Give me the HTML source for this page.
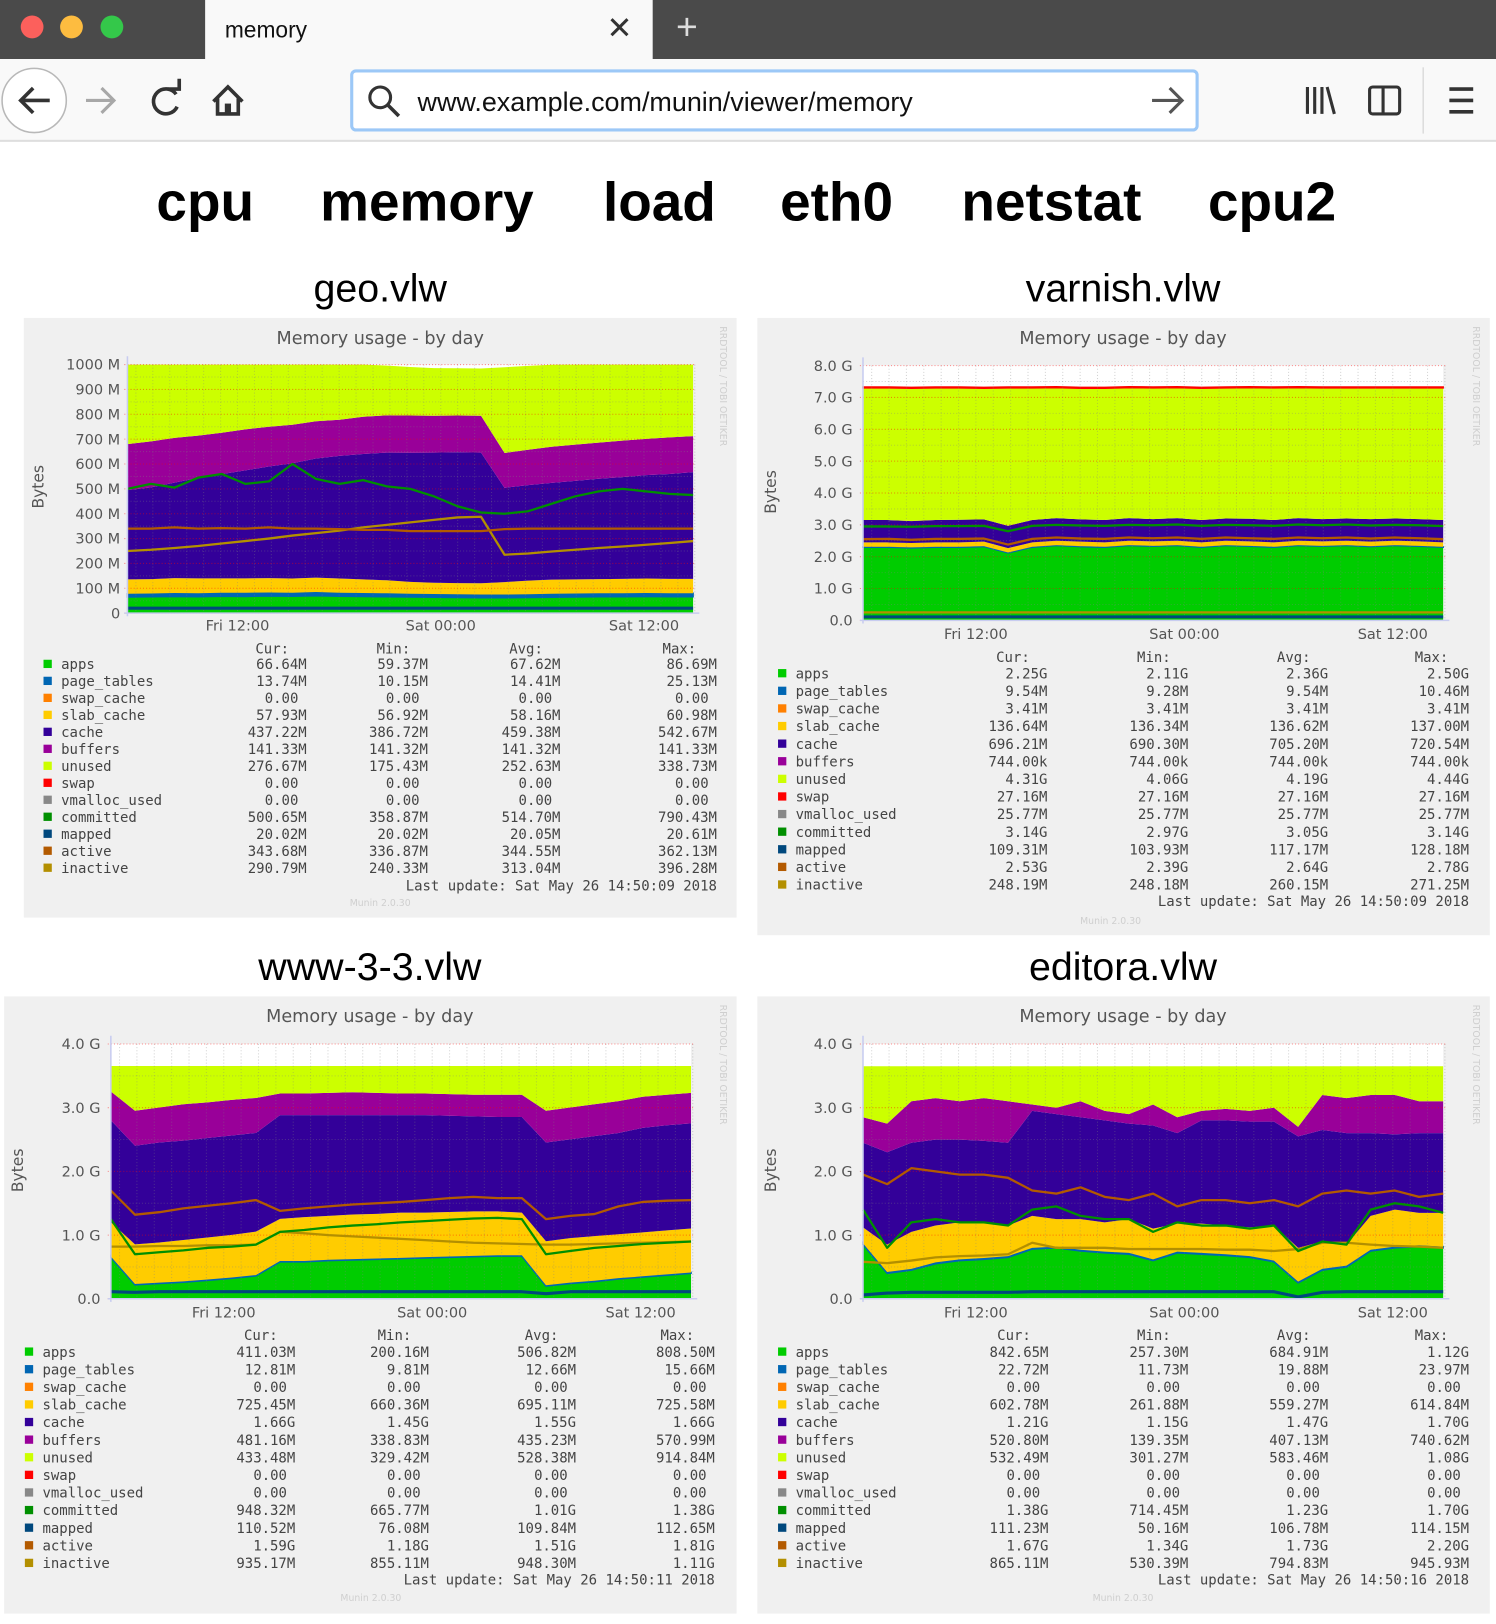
<!DOCTYPE html>
<html><head><meta charset="utf-8">
<style>
html,body{margin:0;padding:0;background:#fff;overflow:hidden;}
#wrap{width:1444px;height:1568px;transform:scale(1.03601,1.03571);transform-origin:0 0;position:relative;}
svg text{font-family:"DejaVu Sans","Liberation Sans",sans-serif;}
.mono{font-family:"DejaVu Sans Mono","Liberation Mono",monospace !important;}
.lib{font-family:"Liberation Sans",Arial,sans-serif !important;}
</style></head>
<body>
<div id="wrap">
<svg id="root" width="1444" height="1568" viewBox="0 0 1444 1568" xmlns="http://www.w3.org/2000/svg">
  <rect x="0" y="0" width="1444" height="57" fill="#4a4a4a"/>
  <circle cx="31" cy="26" r="11" fill="#fc605c"/>
  <circle cx="69" cy="26" r="11" fill="#fdbc40"/>
  <circle cx="108" cy="26" r="11" fill="#34c84a"/>
  <g>
    <rect x="198" y="0" width="432" height="58" fill="#f9f9f9"/>
    <text x="217" y="36" class="lib" font-size="22" fill="#111">memory</text>
  </g>
  <text x="598" y="37" class="lib" font-size="30" fill="#333" text-anchor="middle">✕</text>
  <text x="663" y="38" class="lib" font-size="36" fill="#ddd" text-anchor="middle">+</text>
  <rect x="0" y="57" width="1444" height="78" fill="#f9f9f9"/>
  <rect x="0" y="135" width="1444" height="2" fill="#dedede"/>
  <g>
    <circle cx="33" cy="97" r="31" fill="#fff" stroke="#b8b8b8" stroke-width="1.5"/>
    <path d="M48 97 H20 M32 85 L20 97 L32 109" stroke="#333" stroke-width="3.5" fill="none"/>
  </g>
  <path d="M110 97 H83 M98 85 L110 97 L98 109" stroke="#a8a8a8" stroke-width="3" fill="none"/>
  <g>
    <path d="M170 91 A12 12 0 1 0 171 103" stroke="#333" stroke-width="3.5" fill="none"/>
    <path d="M162 86 L173 86 L173 76" stroke="#333" stroke-width="3.5" fill="none"/>
  </g>
  <g>
    <path d="M206 98 L220 84 L234 98 M210 95 V110 H230 V95" stroke="#333" stroke-width="3.5" fill="none"/>
    <rect x="217" y="100" width="6" height="10" fill="#333"/>
  </g>
  <g>
    <rect x="339.5" y="68.5" width="816" height="57" rx="4" fill="#fff" stroke="#9cc8f7" stroke-width="3"/>
    <circle cx="367" cy="94" r="10" stroke="#333" stroke-width="3" fill="none"/>
    <path d="M374 101 L385 112" stroke="#333" stroke-width="3.5"/>
    <text x="403" y="107" class="lib" font-size="26" fill="#111">www.example.com/munin/viewer/memory</text>
    <path d="M1112 97 H1141 M1129 85 L1141 97 L1129 109" stroke="#555" stroke-width="3" fill="none"/>
  </g>
  <g stroke="#333" stroke-width="3">
    <path d="M1262 84 V110 M1269 84 V110 M1276 84 V110 M1281 84 L1288 110"/>
  </g>
  <g>
    <rect x="1322" y="84" width="29" height="26" rx="3" stroke="#333" stroke-width="3" fill="none"/>
    <path d="M1335 84 V110" stroke="#333" stroke-width="3"/>
  </g>
  <rect x="1373" y="65" width="1.5" height="64" fill="#ddd"/>
  <path d="M1399 86 H1422 M1399 97 H1422 M1399 108 H1422" stroke="#333" stroke-width="3.5"/>

  <g class="navlinks" font-weight="bold" font-size="53" fill="#000">
    <text x="151" y="213" class="lib">cpu</text>
    <text x="309" y="213" class="lib">memory</text>
    <text x="582" y="213" class="lib">load</text>
    <text x="753" y="213" class="lib">eth0</text>
    <text x="928" y="213" class="lib">netstat</text>
    <text x="1166" y="213" class="lib">cpu2</text>
  </g>
  <g font-size="38" fill="#000" text-anchor="middle">
    <text x="367" y="291" class="lib">geo.vlw</text>
    <text x="1084" y="291" class="lib">varnish.vlw</text>
    <text x="357" y="946" class="lib">www-3-3.vlw</text>
    <text x="1084" y="946" class="lib">editora.vlw</text>
  </g>
  <g id="charts"></g>
</svg>
</div>
<script>
const seriesNames = ['apps','page_tables','swap_cache','slab_cache','cache','buffers','unused','swap','vmalloc_used','committed','mapped','active','inactive'];
const seriesColors = ['#00cc00','#0066b3','#ff8000','#ffcc00','#330099','#990099','#ccff00','#ff0000','#888888','#008f00','#00487d','#b35a00','#b38f00'];
const xTickHours = [6.5, 18.5, 30.5];
const xTickLabels = ['Fri 12:00','Sat 00:00','Sat 12:00'];

// ---------- geo.vlw (MB) ----------
const geoApps = [65,66,67,66,68,67,69,68,70,68,67,66,65,64,63,62,62,63,64,65,66,66,67,66,66];
const geoPageTables = [13,13,14,14,14,15,14,14,15,14,14,14,13,13,13,13,13,13,14,14,14,14,14,14,14];
const geoSwapCache = [0,0,0,0,0,0,0,0,0,0,0,0,0,0,0,0,0,0,0,0,0,0,0,0,0];
const geoSlab = [58,58,60,60,58,58,58,57,58,57,55,52,48,45,45,45,50,55,57,57,57,58,58,58,58];
const geoCache = [359,369,384,404,419,434,449,464,479,494,504,514,519,524,526,526,379,384,389,396,404,409,416,422,429];
const geoBuffers = [185,185,180,170,167,165,160,155,150,145,150,150,150,148,148,148,140,142,145,146,145,147,146,147,145];
const geoUnused = [320,310,300,290,278,265,255,245,235,225,210,200,195,192,190,190,345,338,330,322,315,308,302,295,290];
const geoSwap = [0,0,0,0,0,0,0,0,0,0,0,0,0,0,0,0,0,0,0,0,0,0,0,0,0];
const geoCommitted = [500,520,505,545,560,520,530,600,540,520,535,510,500,470,430,405,400,410,440,470,490,500,490,480,475];
const geoMapped = [20,20,20,20,20,20,20,20,20,20,20,20,20,20,20,20,20,20,20,20,20,20,20,20,20];
const geoActive = [340,340,345,340,342,340,345,340,340,338,335,335,330,330,330,330,338,340,340,340,340,340,340,340,340];
const geoInactive = [250,255,262,270,280,290,300,312,322,332,345,355,365,375,385,388,235,240,248,255,262,268,275,282,290];
const geoYTicks = [0,100,200,300,400,500,600,700,800,900,1000];
const geoYLabels = ['0','100 M','200 M','300 M','400 M','500 M','600 M','700 M','800 M','900 M','1000 M'];
const geoCur = ['66.64M','13.74M','0.00','57.93M','437.22M','141.33M','276.67M','0.00','0.00','500.65M','20.02M','343.68M','290.79M'];
const geoMin = ['59.37M','10.15M','0.00','56.92M','386.72M','141.32M','175.43M','0.00','0.00','358.87M','20.02M','336.87M','240.33M'];
const geoAvg = ['67.62M','14.41M','0.00','58.16M','459.38M','141.32M','252.63M','0.00','0.00','514.70M','20.05M','344.55M','313.04M'];
const geoMax = ['86.69M','25.13M','0.00','60.98M','542.67M','141.33M','338.73M','0.00','0.00','790.43M','20.61M','362.13M','396.28M'];

// ---------- varnish.vlw (GB) ----------
const varApps = [2.30,2.30,2.28,2.30,2.30,2.32,2.12,2.30,2.35,2.32,2.30,2.35,2.33,2.35,2.30,2.35,2.33,2.30,2.35,2.33,2.35,2.32,2.35,2.33,2.30];
const varPageTables = [0.01,0.01,0.01,0.01,0.01,0.01,0.01,0.01,0.01,0.01,0.01,0.01,0.01,0.01,0.01,0.01,0.01,0.01,0.01,0.01,0.01,0.01,0.01,0.01,0.01];
const varSwapCache = [0.003,0.003,0.003,0.003,0.003,0.003,0.003,0.003,0.003,0.003,0.003,0.003,0.003,0.003,0.003,0.003,0.003,0.003,0.003,0.003,0.003,0.003,0.003,0.003,0.003];
const varSlab = [0.137,0.137,0.137,0.137,0.137,0.137,0.137,0.137,0.137,0.137,0.137,0.137,0.137,0.137,0.137,0.137,0.137,0.137,0.137,0.137,0.137,0.137,0.137,0.137,0.137];
const varCache = [0.70,0.70,0.69,0.70,0.71,0.70,0.70,0.70,0.71,0.70,0.70,0.71,0.70,0.71,0.70,0.70,0.71,0.70,0.71,0.70,0.70,0.71,0.70,0.70,0.70];
const varBuffers = [0.001,0.001,0.001,0.001,0.001,0.001,0.001,0.001,0.001,0.001,0.001,0.001,0.001,0.001,0.001,0.001,0.001,0.001,0.001,0.001,0.001,0.001,0.001,0.001,0.001];
const varUnused = [4.15,4.15,4.17,4.15,4.14,4.12,4.33,4.15,4.10,4.12,4.14,4.10,4.12,4.10,4.14,4.10,4.12,4.15,4.10,4.12,4.10,4.12,4.10,4.12,4.15];
const varSwap = [0.027,0.027,0.027,0.027,0.027,0.027,0.027,0.027,0.027,0.027,0.027,0.027,0.027,0.027,0.027,0.027,0.027,0.027,0.027,0.027,0.027,0.027,0.027,0.027,0.027];
const varCommitted = [2.95,2.95,2.94,2.96,2.96,2.97,2.80,2.97,3.00,2.98,2.97,3.00,2.99,3.01,2.97,3.00,2.99,2.97,3.01,2.99,3.01,2.98,3.00,2.99,2.96];
const varMapped = [0.11,0.11,0.11,0.11,0.11,0.11,0.11,0.11,0.11,0.11,0.11,0.11,0.11,0.11,0.11,0.11,0.11,0.11,0.11,0.11,0.11,0.11,0.11,0.11,0.11];
const varActive = [2.55,2.56,2.53,2.56,2.56,2.57,2.38,2.56,2.60,2.57,2.56,2.60,2.58,2.60,2.56,2.60,2.58,2.56,2.60,2.58,2.60,2.57,2.60,2.58,2.55];
const varInactive = [0.25,0.25,0.25,0.25,0.25,0.25,0.25,0.25,0.25,0.25,0.25,0.25,0.25,0.25,0.25,0.25,0.25,0.25,0.25,0.25,0.25,0.25,0.25,0.25,0.25];
const varYTicks = [0,1,2,3,4,5,6,7,8];
const varYLabels = ['0.0','1.0 G','2.0 G','3.0 G','4.0 G','5.0 G','6.0 G','7.0 G','8.0 G'];
const varCur = ['2.25G','9.54M','3.41M','136.64M','696.21M','744.00k','4.31G','27.16M','25.77M','3.14G','109.31M','2.53G','248.19M'];
const varMin = ['2.11G','9.28M','3.41M','136.34M','690.30M','744.00k','4.06G','27.16M','25.77M','2.97G','103.93M','2.39G','248.18M'];
const varAvg = ['2.36G','9.54M','3.41M','136.62M','705.20M','744.00k','4.19G','27.16M','25.77M','3.05G','117.17M','2.64G','260.15M'];
const varMax = ['2.50G','10.46M','3.41M','137.00M','720.54M','744.00k','4.44G','27.16M','25.77M','3.14G','128.18M','2.78G','271.25M'];

// ---------- www-3-3.vlw (GB) ----------
const wwwApps = [0.65,0.22,0.24,0.26,0.29,0.32,0.36,0.58,0.58,0.60,0.61,0.62,0.63,0.64,0.65,0.66,0.67,0.67,0.20,0.24,0.27,0.31,0.34,0.37,0.40];
const wwwPageTables = [0.013,0.013,0.013,0.013,0.013,0.013,0.013,0.013,0.013,0.013,0.013,0.013,0.013,0.013,0.013,0.013,0.013,0.013,0.013,0.013,0.013,0.013,0.013,0.013,0.013];
const wwwSwapCache = [0,0,0,0,0,0,0,0,0,0,0,0,0,0,0,0,0,0,0,0,0,0,0,0,0];
const wwwSlab = [0.54,0.62,0.63,0.65,0.66,0.67,0.68,0.66,0.69,0.69,0.70,0.70,0.71,0.70,0.70,0.70,0.69,0.67,0.69,0.70,0.70,0.69,0.69,0.69,0.69];
const wwwCache = [1.60,1.55,1.57,1.56,1.56,1.56,1.55,1.63,1.60,1.58,1.56,1.55,1.53,1.53,1.51,1.49,1.48,1.50,1.55,1.55,1.57,1.59,1.64,1.65,1.65];
const wwwBuffers = [0.45,0.55,0.55,0.57,0.56,0.56,0.55,0.34,0.34,0.35,0.36,0.35,0.34,0.34,0.34,0.34,0.35,0.35,0.50,0.50,0.50,0.50,0.49,0.48,0.48];
const wwwUnused = [0.40,0.70,0.65,0.60,0.57,0.53,0.50,0.43,0.43,0.42,0.41,0.42,0.43,0.43,0.44,0.45,0.45,0.45,0.70,0.65,0.60,0.55,0.48,0.45,0.42];
const wwwSwap = [0,0,0,0,0,0,0,0,0,0,0,0,0,0,0,0,0,0,0,0,0,0,0,0,0];
const wwwCommitted = [1.25,0.70,0.73,0.76,0.80,0.82,0.85,1.05,1.08,1.12,1.15,1.17,1.20,1.22,1.24,1.26,1.27,1.25,0.70,0.75,0.80,0.83,0.86,0.88,0.90];
const wwwMapped = [0.11,0.10,0.11,0.11,0.11,0.11,0.11,0.11,0.11,0.11,0.11,0.11,0.11,0.11,0.11,0.11,0.11,0.11,0.08,0.11,0.11,0.11,0.11,0.11,0.11];
const wwwActive = [1.70,1.32,1.36,1.42,1.46,1.50,1.55,1.38,1.42,1.45,1.48,1.50,1.52,1.55,1.58,1.60,1.58,1.58,1.25,1.30,1.33,1.45,1.52,1.54,1.55];
const wwwInactive = [0.82,0.82,0.83,0.83,0.84,0.84,0.85,1.05,1.03,1.00,0.98,0.96,0.94,0.92,0.90,0.88,0.87,0.86,0.85,0.85,0.86,0.87,0.88,0.89,0.90];
const www4YTicks = [0,1,2,3,4];
const www4YLabels = ['0.0','1.0 G','2.0 G','3.0 G','4.0 G'];
const wwwCur = ['411.03M','12.81M','0.00','725.45M','1.66G','481.16M','433.48M','0.00','0.00','948.32M','110.52M','1.59G','935.17M'];
const wwwMin = ['200.16M','9.81M','0.00','660.36M','1.45G','338.83M','329.42M','0.00','0.00','665.77M','76.08M','1.18G','855.11M'];
const wwwAvg = ['506.82M','12.66M','0.00','695.11M','1.55G','435.23M','528.38M','0.00','0.00','1.01G','109.84M','1.51G','948.30M'];
const wwwMax = ['808.50M','15.66M','0.00','725.58M','1.66G','570.99M','914.84M','0.00','0.00','1.38G','112.65M','1.81G','1.11G'];

// ---------- editora.vlw (GB) ----------
const edApps = [0.85,0.40,0.45,0.55,0.60,0.62,0.65,0.78,0.80,0.75,0.72,0.70,0.60,0.72,0.70,0.68,0.65,0.58,0.25,0.45,0.50,0.75,0.80,0.82,0.80];
const edPageTables = [0.02,0.02,0.02,0.02,0.02,0.02,0.02,0.02,0.02,0.02,0.02,0.02,0.02,0.02,0.02,0.02,0.02,0.02,0.02,0.02,0.02,0.02,0.02,0.02,0.02];
const edSwapCache = [0,0,0,0,0,0,0,0,0,0,0,0,0,0,0,0,0,0,0,0,0,0,0,0,0];
const edSlab = [0.25,0.43,0.58,0.58,0.58,0.56,0.48,0.50,0.43,0.48,0.46,0.53,0.48,0.44,0.46,0.45,0.45,0.55,0.53,0.43,0.33,0.53,0.58,0.51,0.53];
const edCache = [1.33,1.45,1.40,1.35,1.30,1.28,1.30,1.65,1.65,1.60,1.60,1.50,1.62,1.42,1.62,1.65,1.66,1.63,1.75,1.75,1.75,1.30,1.18,1.25,1.25];
const edBuffers = [0.40,0.45,0.65,0.65,0.60,0.67,0.65,0.10,0.10,0.25,0.15,0.15,0.33,0.25,0.15,0.18,0.17,0.22,0.15,0.55,0.55,0.60,0.62,0.50,0.50];
const edUnused = [0.80,0.90,0.55,0.50,0.55,0.50,0.55,0.60,0.65,0.55,0.70,0.75,0.60,0.80,0.70,0.67,0.70,0.65,0.95,0.45,0.50,0.45,0.45,0.55,0.55];
const edSwap = [0,0,0,0,0,0,0,0,0,0,0,0,0,0,0,0,0,0,0,0,0,0,0,0,0];
const edCommitted = [1.40,0.80,1.20,1.25,1.20,1.20,1.15,1.40,1.45,1.30,1.25,1.25,1.05,1.20,1.15,1.15,1.10,1.15,0.75,0.90,0.85,1.40,1.50,1.45,1.35];
const edMapped = [0.06,0.09,0.10,0.10,0.10,0.10,0.10,0.11,0.11,0.11,0.11,0.11,0.11,0.11,0.11,0.11,0.11,0.11,0.03,0.10,0.11,0.11,0.11,0.11,0.11];
const edActive = [1.95,1.80,2.05,2.00,1.95,1.95,1.90,1.70,1.65,1.75,1.60,1.55,1.65,1.45,1.55,1.55,1.50,1.55,1.45,1.65,1.70,1.65,1.70,1.60,1.65];
const edInactive = [0.58,0.56,0.60,0.65,0.67,0.68,0.70,0.88,0.80,0.80,0.80,0.78,0.78,0.78,0.78,0.77,0.77,0.75,0.78,0.88,0.88,0.85,0.83,0.82,0.80];
const edCur = ['842.65M','22.72M','0.00','602.78M','1.21G','520.80M','532.49M','0.00','0.00','1.38G','111.23M','1.67G','865.11M'];
const edMin = ['257.30M','11.73M','0.00','261.88M','1.15G','139.35M','301.27M','0.00','0.00','714.45M','50.16M','1.34G','530.39M'];
const edAvg = ['684.91M','19.88M','0.00','559.27M','1.47G','407.13M','583.46M','0.00','0.00','1.23G','106.78M','1.73G','794.83M'];
const edMax = ['1.12G','23.97M','0.00','614.84M','1.70G','740.62M','1.08G','0.00','0.00','1.70G','114.15M','2.20G','945.93M'];

const NS = 'http://www.w3.org/2000/svg';
function mk(tag, attrs, parent){
  const e = document.createElementNS(NS, tag);
  for (const k in attrs) e.setAttribute(k, attrs[k]);
  parent.appendChild(e);
  return e;
}

function drawChart(key, L, stacks, lines, yTicks, yLabels, yMax, legendCols, lastUpd){
  const root = document.getElementById('charts');
  const g = mk('g', {}, root);
  
  
  const panel = mk('rect', {x:L.px, y:L.py, width:L.pw, height:L.ph, fill:'#f0f0f0'}, g);
  
  
  const ttl = mk('text', {x:L.tx, y:L.ty, 'font-size':17, fill:'#555', 'text-anchor':'middle'}, g);
  ttl.textContent = 'Memory usage - by day';
  
  
  const rrd = mk('text', {x:0, y:0, 'font-size':9, fill:'#cfcfcf', transform:'translate(' + L.rrdX + ',' + (L.py + 8) + ') rotate(90)'}, g);
  rrd.textContent = 'RRDTOOL / TOBI OETIKER';
  
  

  const span = 33.4;
  const n = stacks[0].vals.length;
  const sx = t => L.l + t / span * (L.r - L.l);
  const xi = i => sx(i / (n - 1) * span);
  const sy = v => L.b - Math.min(v, yMax) / yMax * (L.b - L.t);

  mk('rect', {x:L.l, y:L.t, width:L.r - L.l, height:L.b - L.t, fill:'#fff'}, g);
  let base = new Array(n).fill(0);
  stacks.forEach(s => {
    const top = base.map((b, i) => b + s.vals[i]);
    let d = '';
    for (let i = 0; i < n; i++) d += (i ? 'L' : 'M') + xi(i).toFixed(1) + ' ' + sy(top[i]).toFixed(1);
    for (let i = n - 1; i >= 0; i--) d += 'L' + xi(i).toFixed(1) + ' ' + sy(base[i]).toFixed(1);
    const p = mk('path', {d:d + 'Z', fill:s.color}, g);
    const nonzero = s.vals.some(v => v > 0);
    if (s.stroke && nonzero) { p.setAttribute('stroke', s.color); p.setAttribute('stroke-width', '1.5'); }
    
    
    base = top;
  });
  const gg = mk('g', {}, g);
  for (let h = 0; h <= span; h += 1) {
    const major = Math.abs(((h - 0.5) % 6)) < 0.01;
    mk('line', {x1:sx(h + 0.5), x2:sx(h + 0.5), y1:L.t, y2:L.b, stroke: major ? 'rgba(255,0,0,0.45)' : 'rgba(130,130,130,0.35)', 'stroke-width':1, 'stroke-dasharray':'1 2'}, gg);
  }
  yTicks.forEach((v, k) => {
    mk('line', {x1:L.l - 3, x2:L.r + 3, y1:sy(v), y2:sy(v), stroke:'rgba(255,0,0,0.45)', 'stroke-width':1, 'stroke-dasharray':'1 2'}, gg);
    if (k < yTicks.length - 1) {
      const mid = (v + yTicks[k + 1]) / 2;
      mk('line', {x1:L.l, x2:L.r, y1:sy(mid), y2:sy(mid), stroke:'rgba(130,130,130,0.35)', 'stroke-width':1, 'stroke-dasharray':'1 2'}, gg);
    }
    const t = mk('text', {x:L.yl, y:sy(v) + 5, 'font-size':14, fill:'#555', 'text-anchor':'end'}, g);
    t.textContent = yLabels[k];
    
    
  });
  lines.forEach(s => {
    let d = '';
    for (let i = 0; i < n; i++) d += (i ? 'L' : 'M') + xi(i).toFixed(1) + ' ' + sy(s.vals[i]).toFixed(1);
    const p = mk('path', {d:d, fill:'none', stroke:s.color, 'stroke-width':s.w || 2.2, 'stroke-linejoin':'round'}, g);
    
    
  });
  mk('line', {x1:L.l - 3, x2:L.r + 6, y1:L.b, y2:L.b, stroke:'#c8ccf0', 'stroke-width':1.5}, g);
  mk('line', {x1:L.l, x2:L.l, y1:L.t - 8, y2:L.b + 3, stroke:'#c8ccf0', 'stroke-width':1.5}, g);
  xTickHours.forEach((h, k) => {
    const t = mk('text', {x:sx(h), y:L.xy, 'font-size':14, fill:'#555', 'text-anchor':'middle'}, g);
    t.textContent = xTickLabels[k];
    
    
  });
  const by = mk('text', {x:0, y:0, 'font-size':15, fill:'#555', 'text-anchor':'middle', transform:'translate(' + L.bx + ',' + L.by + ') rotate(-90)'}, g);
  by.textContent = 'Bytes';
  
  

  const heads = ['Cur:','Min:','Avg:','Max:'];
  heads.forEach((h, c) => {
    const t = mk('text', {x:L.cols[c] - 17 + (c === 3 ? -3 : 0), y:L.hy, 'font-size':13.5, fill:'#444', 'text-anchor':'end', class:'mono'}, g);
    t.textContent = h;
    
    
  });
  seriesNames.forEach((nm, r) => {
    const y = L.ry + r * L.rs;
    const row = mk('g', {}, g);
    
    
    mk('rect', {x:L.sq, y:y - 9, width:8, height:8, fill:seriesColors[r]}, row);
    const t = mk('text', {x:L.nx, y:y, 'font-size':13.5, fill:'#444', class:'mono'}, row);
    t.textContent = nm;
    legendCols.forEach((col, c) => {
      const v = col[r];
      const suffix = /[A-Za-z]$/.test(v);
      const tt = mk('text', {x:L.cols[c] - (suffix ? 0 : 8), y:y, 'font-size':13.5, fill:'#444', 'text-anchor':'end', class:'mono'}, row);
      tt.textContent = v;
    });
  });
  const lu = mk('text', {x:L.cols[3], y:L.ly, 'font-size':13.5, fill:'#444', 'text-anchor':'end', class:'mono'}, g);
  lu.textContent = 'Last update:  ' + lastUpd;
  
  
  const mu = mk('text', {x:L.mx, y:L.my, 'font-size':9, fill:'#cfcfcf', 'text-anchor':'middle'}, g);
  mu.textContent = 'Munin 2.0.30';
  
  
}

function stackSet(a, pt, sc, sl, ca, bu, un, sw){
  return [
    {name:'apps', vals:a, color:seriesColors[0]},
    {name:'page_tables', vals:pt, color:seriesColors[1], stroke:true},
    {name:'swap_cache', vals:sc, color:seriesColors[2]},
    {name:'slab_cache', vals:sl, color:seriesColors[3]},
    {name:'cache', vals:ca, color:seriesColors[4]},
    {name:'buffers', vals:bu, color:seriesColors[5]},
    {name:'unused', vals:un, color:seriesColors[6]},
    {name:'swap', vals:sw, color:seriesColors[7], stroke:true}
  ];
}
function lineSet(co, ma, ac, ina){
  return [
    {name:'mapped', vals:ma, color:seriesColors[10], w:3},
    {name:'inactive', vals:ina, color:seriesColors[12]},
    {name:'active', vals:ac, color:seriesColors[11]},
    {name:'committed', vals:co, color:seriesColors[9]}
  ];
}

drawChart('geo',
  {px:23,py:307,pw:688,ph:579,l:123,r:669,t:352,b:592,tx:367,ty:332,xy:609,yl:116,bx:42,by:470,sq:42,nx:59,ry:646,rs:16.4,hy:631,cols:[296,413,541,692],ly:860,mx:367,my:875,rrdX:695},
  stackSet(geoApps,geoPageTables,geoSwapCache,geoSlab,geoCache,geoBuffers,geoUnused,geoSwap),
  lineSet(geoCommitted,geoMapped,geoActive,geoInactive),
  geoYTicks, geoYLabels, 1000, [geoCur,geoMin,geoAvg,geoMax], 'Sat May 26 14:50:09 2018');

drawChart('varnish',
  {px:731,py:307,pw:707,ph:596,l:833,r:1393,t:353,b:599,tx:1084,ty:332,xy:617,yl:823,bx:749,by:475,sq:751,nx:768,ry:655,rs:17,hy:639,cols:[1011,1147,1282,1418],ly:875,mx:1072,my:892,rrdX:1422},
  stackSet(varApps,varPageTables,varSwapCache,varSlab,varCache,varBuffers,varUnused,varSwap),
  lineSet(varCommitted,varMapped,varActive,varInactive),
  varYTicks, varYLabels, 8, [varCur,varMin,varAvg,varMax], 'Sat May 26 14:50:09 2018');

drawChart('www',
  {px:4,py:962,pw:707,ph:596,l:107,r:667,t:1008,b:1254,tx:357,ty:987,xy:1272,yl:97,bx:22,by:1130,sq:24,nx:41,ry:1310,rs:17,hy:1294,cols:[285,414,556,690],ly:1530,mx:358,my:1546,rrdX:695},
  stackSet(wwwApps,wwwPageTables,wwwSwapCache,wwwSlab,wwwCache,wwwBuffers,wwwUnused,wwwSwap),
  lineSet(wwwCommitted,wwwMapped,wwwActive,wwwInactive),
  www4YTicks, www4YLabels, 4, [wwwCur,wwwMin,wwwAvg,wwwMax], 'Sat May 26 14:50:11 2018');

drawChart('editora',
  {px:731,py:962,pw:707,ph:596,l:833,r:1393,t:1008,b:1254,tx:1084,ty:987,xy:1272,yl:823,bx:749,by:1130,sq:751,nx:768,ry:1310,rs:17,hy:1294,cols:[1012,1147,1282,1418],ly:1530,mx:1084,my:1546,rrdX:1422},
  stackSet(edApps,edPageTables,edSwapCache,edSlab,edCache,edBuffers,edUnused,edSwap),
  lineSet(edCommitted,edMapped,edActive,edInactive),
  www4YTicks, www4YLabels, 4, [edCur,edMin,edAvg,edMax], 'Sat May 26 14:50:16 2018');
</script>
</body></html>
